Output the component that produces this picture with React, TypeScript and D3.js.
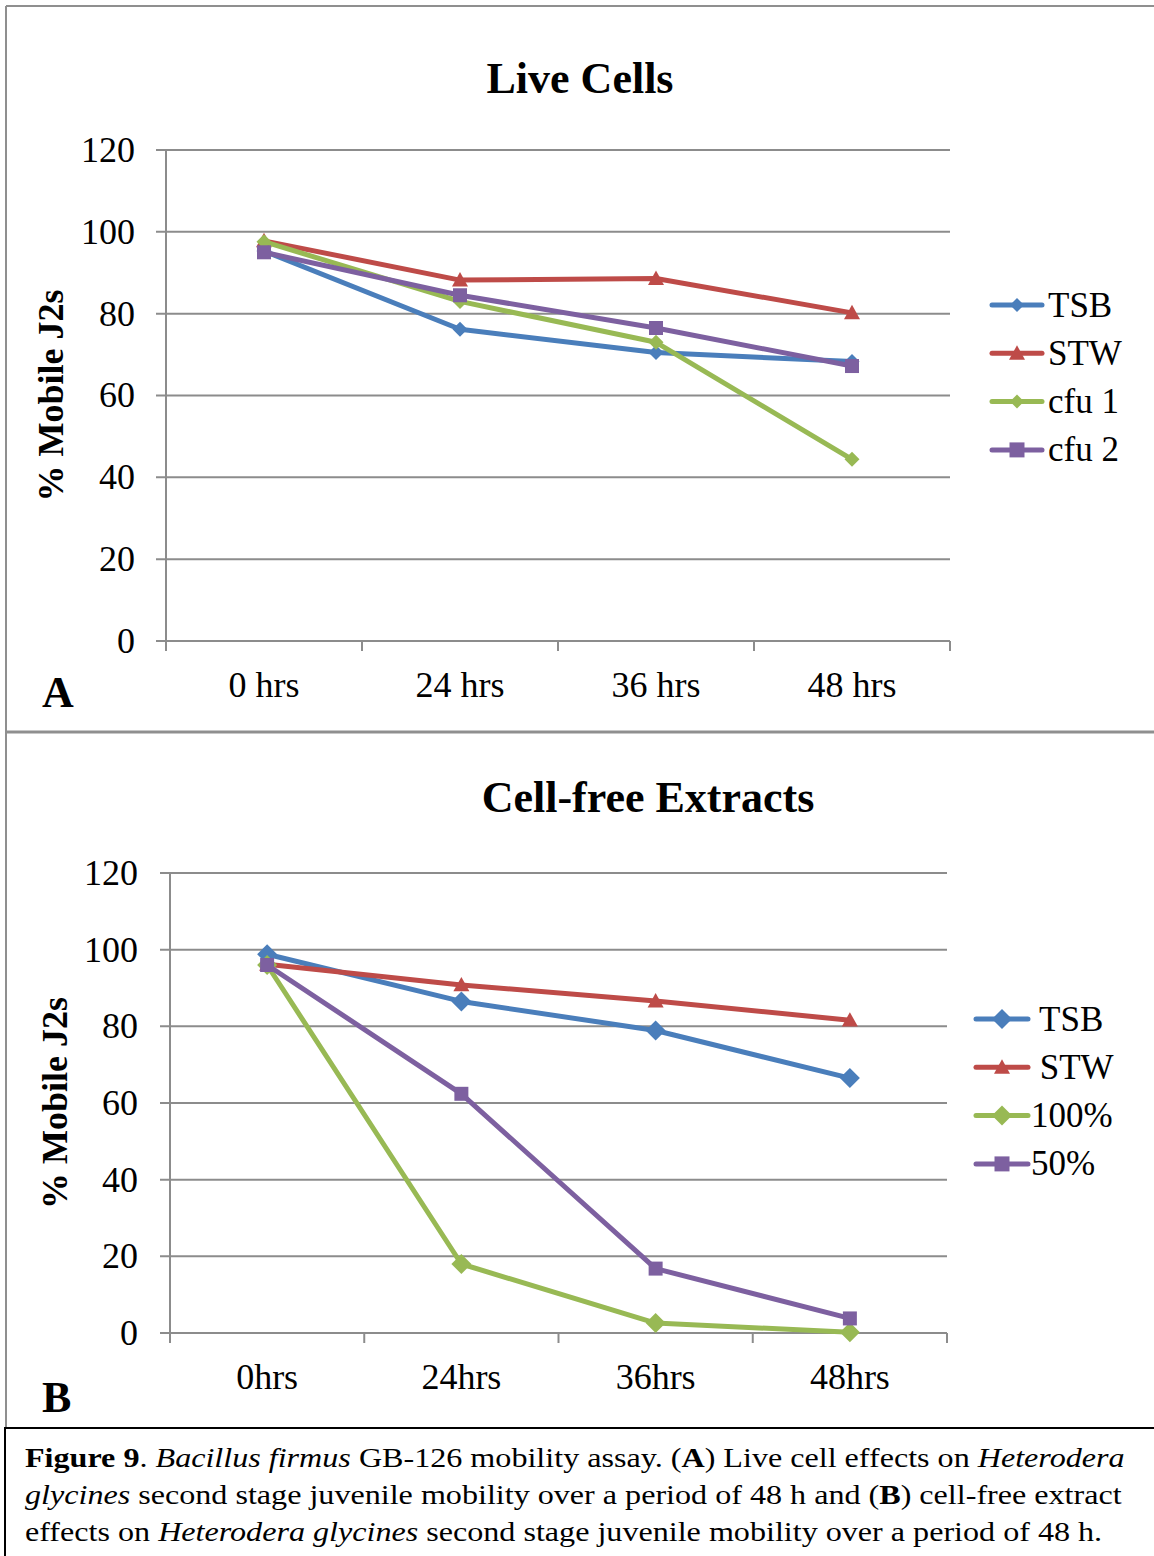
import React from 'react'
import * as d3 from 'd3'

const catsA = ['0 hrs', '24 hrs', '36 hrs', '48 hrs']
const catsB = ['0hrs', '24hrs', '36hrs', '48hrs']
const yTicks = [0, 20, 40, 60, 80, 100, 120]

const namesA = ['TSB', 'STW', 'cfu 1', 'cfu 2']
const tsbA = [95.3, 76.2, 70.5, 68.3]
const stwA = [97.8, 88.2, 88.6, 80.2]
const cfu1A = [97.6, 83.0, 73.0, 44.4]
const cfu2A = [95.0, 84.5, 76.5, 67.2]

const namesB = [' TSB', ' STW', '100%', '50%']
const tsbB = [98.8, 86.5, 78.9, 66.5]
const stwB = [96.2, 90.8, 86.6, 81.6]
const pct100B = [96.0, 18.0, 2.6, 0.2]
const pct50B = [96.0, 62.4, 16.8, 3.8]

const colors = ['#4a7ebb', '#be4b48', '#98b954', '#7d60a0']
const shapes = ['diamond', 'triangle', 'diamond', 'square']

const SERIF = '"Liberation Serif", "Times New Roman", serif'
const GRID = '#8c8c8c'

function markerPath(shape, r) {
  if (shape === 'diamond') return `M0,${-r}L${r},0L0,${r}L${-r},0Z`
  if (shape === 'triangle') return `M0,${-r}L${r},${r * 0.8}L${-r},${r * 0.8}Z`
  return `M${-r},${-r}H${r}V${r}H${-r}Z`
}

function Panel({ cats, series, names, box, title, letter, titleX, titleY, letterY, labelX, tickRight, legend, markR, legR }) {
  const x = d3.scaleBand().domain(cats).range([box.left, box.right]).padding(0)
  const y = d3.scaleLinear().domain([0, 120]).range([box.bottom, box.top])
  const cx = c => x(c) + x.bandwidth() / 2
  const line = d3.line<number>().x((d, i) => cx(cats[i])).y(d => y(d))
  const edges = cats.map(c => x(c)).concat([box.right])

  return (
    <g fontFamily={SERIF}>
      <text x={titleX} y={titleY} textAnchor="middle" fontSize={44} fontWeight="bold">{title}</text>
      {yTicks.map(t => (
        <g key={t}>
          <line x1={box.left - 10} x2={box.right} y1={y(t)} y2={y(t)} stroke={GRID} strokeWidth={2} />
          <text x={tickRight} y={y(t)} dy="0.33em" textAnchor="end" fontSize={36}>{t}</text>
        </g>
      ))}
      <line x1={box.left} x2={box.left} y1={box.top} y2={box.bottom + 10} stroke={GRID} strokeWidth={2} />
      {edges.map((e, i) => (
        <line key={i} x1={e} x2={e} y1={box.bottom} y2={box.bottom + 10} stroke={GRID} strokeWidth={2} />
      ))}
      {cats.map(c => (
        <text key={c} x={cx(c)} y={box.bottom + 56} textAnchor="middle" fontSize={36}>{c}</text>
      ))}
      <text transform={`translate(${labelX},${(box.top + box.bottom) / 2}) rotate(-90)`} textAnchor="middle" fontSize={36} fontWeight="bold">% Mobile J2s</text>
      <text x={42} y={letterY} fontSize={44} fontWeight="bold">{letter}</text>
      {series.map((s, k) => (
        <g key={k}>
          <path d={line(s)} fill="none" stroke={colors[k]} strokeWidth={5} strokeLinejoin="round" />
          {s.map((v, i) => (
            <path key={i} transform={`translate(${cx(cats[i])},${y(v)})`} d={markerPath(shapes[k], markR[shapes[k]])} fill={colors[k]} />
          ))}
        </g>
      ))}
      {names.map((n, k) => {
        const ly = legend.y0 + k * 48.3
        return (
          <g key={n}>
            <line x1={legend.x0} x2={legend.x1} y1={ly} y2={ly} stroke={colors[k]} strokeWidth={5} strokeLinecap="round" />
            <path transform={`translate(${(legend.x0 + legend.x1) / 2},${ly})`} d={markerPath(shapes[k], legR[shapes[k]])} fill={colors[k]} />
            <text x={legend.tx} y={ly} dy="0.33em" fontSize={35} style={{ whiteSpace: 'pre' }}>{n}</text>
          </g>
        )
      })}
    </g>
  )
}

export default function App() {
  return (
    <svg width={1154} height={1556} style={{ position: 'absolute', left: 0, top: 0, background: '#fff' }}>
      <rect x={0} y={0} width={1154} height={1556} fill="#fff" />
      <line x1={6} x2={1154} y1={6} y2={6} stroke="#8f8f8f" strokeWidth={2} />
      <line x1={6} x2={6} y1={6} y2={1428} stroke="#8f8f8f" strokeWidth={2} />
      <line x1={6} x2={1154} y1={732} y2={732} stroke="#8f8f8f" strokeWidth={3} />
      <Panel
        cats={catsA}
        series={[tsbA, stwA, cfu1A, cfu2A]}
        names={namesA}
        box={{ left: 166, right: 950, top: 150, bottom: 641 }}
        title="Live Cells"
        letter="A"
        titleX={580}
        titleY={93}
        letterY={707}
        labelX={63}
        tickRight={135}
        legend={{ x0: 992, x1: 1042, tx: 1048, y0: 305 }}
        markR={{ diamond: 7.5, triangle: 8, square: 7 }}
        legR={{ diamond: 7, triangle: 8, square: 7.5 }}
      />
      <Panel
        cats={catsB}
        series={[tsbB, stwB, pct100B, pct50B]}
        names={namesB}
        box={{ left: 170, right: 947, top: 873, bottom: 1333 }}
        title="Cell-free Extracts"
        letter="B"
        titleX={648}
        titleY={812}
        letterY={1412}
        labelX={67}
        tickRight={138}
        legend={{ x0: 976, x1: 1028, tx: 1031, y0: 1019 }}
        markR={{ diamond: 10, triangle: 8, square: 7 }}
        legR={{ diamond: 10, triangle: 8, square: 7.5 }}
      />
      <rect x={5} y={1428} width={1160} height={140} fill="none" stroke="#000" strokeWidth={2} />
      <g fontFamily={SERIF} fontSize={27} transform="translate(25,0) scale(1.19,1)">
        <text x={0} y={1467}>
          <tspan fontWeight="bold">Figure 9</tspan>. <tspan fontStyle="italic">Bacillus firmus</tspan> GB-126 mobility assay. (<tspan fontWeight="bold">A</tspan>) Live cell effects on <tspan fontStyle="italic">Heterodera</tspan>
        </text>
        <text x={0} y={1504}>
          <tspan fontStyle="italic">glycines</tspan> second stage juvenile mobility over a period of 48 h and (<tspan fontWeight="bold">B</tspan>) cell-free extract
        </text>
        <text x={0} y={1541}>
          effects on <tspan fontStyle="italic">Heterodera glycines</tspan> second stage juvenile mobility over a period of 48 h.
        </text>
      </g>
    </svg>
  )
}
